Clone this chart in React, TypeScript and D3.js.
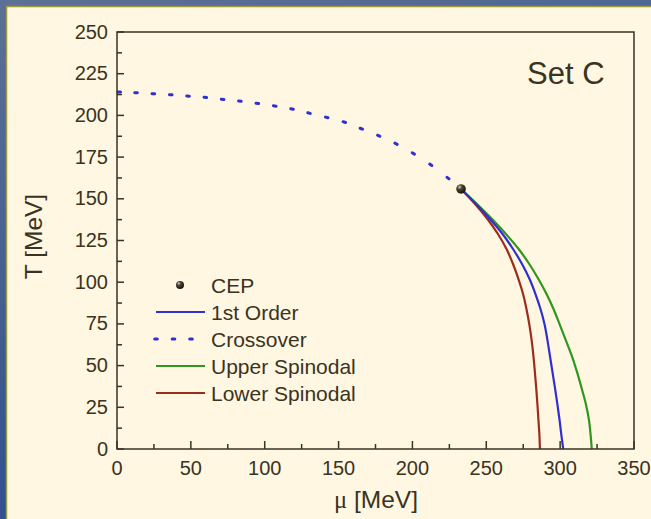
import React from "react";
import * as d3 from "d3";

const crossoverMu = [1.5, 12.9, 24.6, 36.4, 48.1, 59.8, 71.5, 83.2, 95.0, 106.8, 118.5, 130.0, 142.0, 153.9, 165.4, 177.2, 188.9, 200.6, 212.4, 224.1];
const crossoverT = [214.0, 213.6, 213.0, 212.4, 211.6, 210.8, 209.6, 208.6, 207.2, 205.6, 203.8, 201.4, 198.8, 196.0, 192.0, 187.8, 183.0, 177.2, 170.4, 162.4];

// first order line and spinodals share the same T grid
const curveT = [155.9, 146.9, 137.9, 128.9, 119.9, 110.9, 101.9, 92.9, 83.9, 74.9, 65.3, 55.8, 46.2, 36.6, 27.0, 17.4, 7.8, 0];
const firstOrderMu = [232.9, 243.0, 252.5, 261.0, 268.1, 274.2, 279.3, 283.3, 286.7, 289.4, 291.4, 293.1, 294.8, 296.5, 298.1, 299.6, 300.9, 302.1];
const upperSpinodalMu = [232.9, 243.7, 253.9, 263.3, 271.9, 279.1, 285.3, 290.8, 295.5, 299.6, 303.8, 307.9, 311.4, 314.5, 317.4, 319.5, 320.7, 321.4];
const lowerSpinodalMu = [232.9, 242.4, 250.8, 257.9, 263.7, 268.1, 271.8, 274.9, 277.2, 279.1, 280.7, 281.9, 282.9, 283.8, 284.6, 285.3, 286.0, 286.3];

const cepMu = 232.9;
const cepT = 155.9;

const xTicks = [0, 50, 100, 150, 200, 250, 300, 350];
const yTicks = [0, 25, 50, 75, 100, 125, 150, 175, 200, 225, 250];

const legendLabels = ["CEP", "1st Order", "Crossover", "Upper Spinodal", "Lower Spinodal"];

const BLUE = "#2f2fd2";
const GREEN = "#2f9620";
const RED = "#9e2c1c";
const INK = "#3a3322";

export default function App() {
  const x = d3.scaleLinear().domain([0, 350]).range([117, 634]);
  const y = d3.scaleLinear().domain([0, 250]).range([449, 32]);

  const line = d3
    .line<[number, number]>()
    .x((d) => x(d[0]))
    .y((d) => y(d[1]))
    .curve(d3.curveCatmullRom);

  const pts = (mu: number[]) => mu.map((m, i) => [m, curveT[i]] as [number, number]);

  // crossover dots: short dashes oriented along the curve
  const cross = crossoverMu.map((m, i) => [x(m), y(crossoverT[i])]);
  const dashes = cross.map((p, i) => {
    const a = cross[Math.max(0, i - 1)];
    const b = i + 1 < cross.length ? cross[i + 1] : [x(cepMu), y(cepT)];
    const ang = Math.atan2(b[1] - a[1], b[0] - a[0]);
    const h = 1.3;
    return { x1: p[0] - h * Math.cos(ang), y1: p[1] - h * Math.sin(ang), x2: p[0] + h * Math.cos(ang), y2: p[1] + h * Math.sin(ang) };
  });

  const xMinor = d3.range(25, 350, 50);
  const yMinor = d3.range(12.5, 250, 25);

  const legendY = (i: number) => 285 + i * 27;

  return (
    <div>
      <style>{`body{margin:0}`}</style>
      <svg width={651} height={519} style={{ display: "block" }} fontFamily="'Liberation Sans', Arial, sans-serif">
        <defs>
          <linearGradient id="bg" x1="0" y1="0" x2="0.3" y2="1">
            <stop offset="0" stopColor="#5d7096" />
            <stop offset="1" stopColor="#2c4f8e" />
          </linearGradient>
          <radialGradient id="ball" cx="0.35" cy="0.3" r="0.7">
            <stop offset="0" stopColor="#d8d4c0" />
            <stop offset="0.35" stopColor="#4a4535" />
            <stop offset="1" stopColor="#16140e" />
          </radialGradient>
        </defs>
        <rect width={651} height={519} fill="url(#bg)" />
        <rect x={6.5} y={6.5} width={660} height={530} fill="#fff7e1" stroke="#9c9a3f" strokeWidth={1.5} />

        {/* curves */}
        <path d={line(pts(lowerSpinodalMu)) || ""} fill="none" stroke={RED} strokeWidth={2.2} />
        <path d={line(pts(upperSpinodalMu)) || ""} fill="none" stroke={GREEN} strokeWidth={2.2} />
        <path d={line(pts(firstOrderMu)) || ""} fill="none" stroke={BLUE} strokeWidth={2.2} />
        {dashes.map((d, i) => (
          <line key={i} x1={d.x1} y1={d.y1} x2={d.x2} y2={d.y2} stroke={BLUE} strokeWidth={3} strokeLinecap="round" />
        ))}
        <circle cx={x(cepMu)} cy={y(cepT)} r={4.8} fill="url(#ball)" />

        {/* frame */}
        <rect x={117} y={32} width={517} height={417} fill="none" stroke={INK} strokeWidth={1.5} />

        {/* x ticks */}
        {xTicks.map((t) => (
          <g key={"x" + t}>
            <line x1={x(t)} x2={x(t)} y1={449} y2={441} stroke={INK} strokeWidth={1.5} />
            <text x={x(t)} y={475} textAnchor="middle" fontSize={20} fill={INK}>
              {t}
            </text>
          </g>
        ))}
        {xMinor.map((t) => (
          <line key={"xm" + t} x1={x(t)} x2={x(t)} y1={449} y2={444} stroke={INK} strokeWidth={1.5} />
        ))}

        {/* y ticks */}
        {yTicks.map((t) => (
          <g key={"y" + t}>
            <line x1={117} x2={124} y1={y(t)} y2={y(t)} stroke={INK} strokeWidth={1.5} />
            <text x={108} y={y(t) + 6.5} textAnchor="end" fontSize={20} fill={INK}>
              {t}
            </text>
          </g>
        ))}
        {yMinor.map((t) => (
          <line key={"ym" + t} x1={117} x2={122} y1={y(t)} y2={y(t)} stroke={INK} strokeWidth={1.5} />
        ))}

        {/* axis titles */}
        <text x={376} y={508} textAnchor="middle" fontSize={24.5} fill={INK}>
          <tspan fontFamily="'Liberation Serif', 'Times New Roman', serif">μ</tspan> [MeV]
        </text>
        <text transform="translate(41.5,236.5) rotate(-90)" textAnchor="middle" fontSize={24.5} fill={INK}>
          T [MeV]
        </text>

        <text x={527} y={84} fontSize={31} fill={INK}>
          Set C
        </text>

        {/* legend */}
        <circle cx={180} cy={legendY(0)} r={4} fill="url(#ball)" />
        <line x1={156} x2={205} y1={legendY(1)} y2={legendY(1)} stroke={BLUE} strokeWidth={2.2} />
        {[156, 173.5, 191].map((cx) => (
          <line key={cx} x1={cx - 1.3} x2={cx + 1.3} y1={legendY(2)} y2={legendY(2)} stroke={BLUE} strokeWidth={3} strokeLinecap="round" />
        ))}
        <line x1={156} x2={205} y1={legendY(3)} y2={legendY(3)} stroke={GREEN} strokeWidth={2.2} />
        <line x1={156} x2={205} y1={legendY(4)} y2={legendY(4)} stroke={RED} strokeWidth={2.2} />
        {legendLabels.map((l, i) => (
          <text key={l} x={211} y={legendY(i) + 7.5} fontSize={21} fill={INK}>
            {l}
          </text>
        ))}
      </svg>
    </div>
  );
}
